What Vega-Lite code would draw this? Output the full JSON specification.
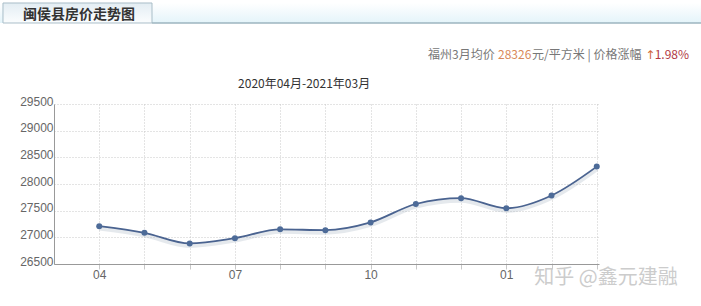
{
  "$schema": "https://vega.github.io/schema/vega-lite/v6.json",
  "autosize": {"type": "none"},
  "width": 545,
  "height": 160,
  "padding": {"left": 54, "top": 104, "right": 102, "bottom": 42},
  "background": "white",
  "config": {
    "view": {"stroke": null},
    "font": "Noto Sans CJK SC",
    "axis": {"labelOverlap": false, "labelFlush": false}
  },
  "layer": [
    {
      "data": {"values": [
        {"i": 0, "month": "2020-04", "price": 27210},
        {"i": 1, "month": "2020-05", "price": 27085},
        {"i": 2, "month": "2020-06", "price": 26885},
        {"i": 3, "month": "2020-07", "price": 26985},
        {"i": 4, "month": "2020-08", "price": 27150},
        {"i": 5, "month": "2020-09", "price": 27135},
        {"i": 6, "month": "2020-10", "price": 27280},
        {"i": 7, "month": "2020-11", "price": 27625},
        {"i": 8, "month": "2020-12", "price": 27735},
        {"i": 9, "month": "2021-01", "price": 27545},
        {"i": 10, "month": "2021-02", "price": 27785},
        {"i": 11, "month": "2021-03", "price": 28326}
      ]},
      "encoding": {
        "x": {
          "field": "i",
          "type": "quantitative",
          "scale": {"domain": [-1, 11.05], "nice": false, "zero": false},
          "axis": {
            "title": null,
            "values": [0, 1, 2, 3, 4, 5, 6, 7, 8, 9, 10, 11],
            "tickCount": 12,
            "labelExpr": "datum.value == 0 ? '04' : datum.value == 3 ? '07' : datum.value == 6 ? '10' : datum.value == 9 ? '01' : ''",
            "labelFont": "Liberation Sans",
            "labelFontSize": 12,
            "labelColor": "#666666",
            "labelPadding": 0,
            "tickSize": 5,
            "tickColor": "#c8c8c8",
            "domainColor": "#999999",
            "grid": true,
            "gridColor": "#c8c8c8",
            "gridDash": [1, 2]
          }
        },
        "y": {
          "field": "price",
          "type": "quantitative",
          "scale": {"domain": [26500, 29500], "nice": false, "zero": false},
          "axis": {
            "title": null,
            "values": [26500, 27000, 27500, 28000, 28500, 29000, 29500],
            "tickCount": 7,
            "format": "d",
            "labelFont": "Liberation Sans",
            "labelFontSize": 12,
            "labelColor": "#666666",
            "labelPadding": 1,
            "labelOffset": -3,
            "ticks": false,
            "domainColor": "#999999",
            "grid": true,
            "gridColor": "#c8c8c8",
            "gridDash": [1, 2]
          }
        }
      },
      "layer": [
        {"mark": {"type": "line", "interpolate": "monotone", "stroke": "#b4bfcc", "strokeWidth": 5, "opacity": 0.35, "yOffset": 2}},
        {"mark": {"type": "line", "interpolate": "monotone", "stroke": "#4a6390", "strokeWidth": 1.8}},
        {"mark": {"type": "point", "filled": true, "size": 36, "color": "#4d6b98", "opacity": 1}}
      ]
    },
    {
      "data": {"values": [{"part": "band"}]},
      "mark": {"type": "rect", "fill": {"gradient": "linear", "x1": 0, "y1": 0, "x2": 0, "y2": 1, "stops": [{"offset": 0, "color": "#ffffff"}, {"offset": 1, "color": "#e4f4fa"}]}},
      "encoding": {
        "x": {"datum": -2.194, "type": "quantitative"},
        "x2": {"datum": 13.305},
        "y": {"datum": 31394, "type": "quantitative"},
        "y2": {"datum": 31019}
      }
    },
    {
      "data": {"values": [{"part": "tab"}]},
      "mark": {"type": "rect", "stroke": "#a9bec8", "strokeWidth": 1, "fill": {"gradient": "linear", "x1": 0, "y1": 0, "x2": 0, "y2": 1, "stops": [{"offset": 0, "color": "#e3edf3"}, {"offset": 1, "color": "#fbfdfe"}]}},
      "encoding": {
        "x": {"datum": -2.128, "type": "quantitative"},
        "x2": {"datum": 1.167},
        "y": {"datum": 31394, "type": "quantitative"},
        "y2": {"datum": 31019}
      }
    },
    {
      "data": {"values": [{"part": "line"}]},
      "mark": {"type": "rule", "stroke": "#9db5bf", "strokeWidth": 1.5},
      "encoding": {
        "x": {"datum": 1.167, "type": "quantitative"},
        "x2": {"datum": 13.305},
        "y": {"datum": 31019, "type": "quantitative"}
      }
    },
    {
      "data": {"values": [{"label": "闽侯县房价走势图"}]},
      "mark": {"type": "text", "align": "left", "baseline": "middle", "fontSize": 14, "fontWeight": "bold", "color": "#333333"},
      "encoding": {
        "x": {"datum": -1.685, "type": "quantitative"},
        "y": {"datum": 31169, "type": "quantitative"},
        "text": {"field": "label"}
      }
    },
    {
      "data": {"values": [{"label": "2020年04月-2021年03月"}]},
      "mark": {"type": "text", "align": "center", "baseline": "middle", "fontSize": 12, "color": "#333333"},
      "encoding": {
        "x": {"datum": 4.53, "type": "quantitative"},
        "y": {"datum": 29875, "type": "quantitative"},
        "text": {"field": "label"}
      }
    },
    {
      "data": {"values": [{"label": "福州3月均价"}]},
      "mark": {"type": "text", "align": "left", "baseline": "middle", "fontSize": 12, "color": "#777777"},
      "encoding": {
        "x": {"datum": 7.269, "type": "quantitative"},
        "y": {"datum": 30419, "type": "quantitative"},
        "text": {"field": "label"}
      }
    },
    {
      "data": {"values": [{"label": "28326"}]},
      "mark": {"type": "text", "align": "left", "baseline": "middle", "fontSize": 12, "color": "#d98a5a"},
      "encoding": {
        "x": {"datum": 8.817, "type": "quantitative"},
        "y": {"datum": 30419, "type": "quantitative"},
        "text": {"field": "label"}
      }
    },
    {
      "data": {"values": [{"label": "元/平方米 | 价格涨幅"}]},
      "mark": {"type": "text", "align": "left", "baseline": "middle", "fontSize": 12, "color": "#777777"},
      "encoding": {
        "x": {"datum": 9.57, "type": "quantitative"},
        "y": {"datum": 30419, "type": "quantitative"},
        "text": {"field": "label"}
      }
    },
    {
      "data": {"values": [{"label": "↑"}]},
      "mark": {"type": "text", "align": "left", "baseline": "middle", "fontSize": 12, "font": "DejaVu Sans", "color": "#d0663a"},
      "encoding": {
        "x": {"datum": 12.07, "type": "quantitative"},
        "y": {"datum": 30419, "type": "quantitative"},
        "text": {"field": "label"}
      }
    },
    {
      "data": {"values": [{"label": "1.98%"}]},
      "mark": {"type": "text", "align": "right", "baseline": "middle", "fontSize": 12, "color": "#b23a45"},
      "encoding": {
        "x": {"datum": 13.04, "type": "quantitative"},
        "y": {"datum": 30419, "type": "quantitative"},
        "text": {"field": "label"}
      }
    },
    {
      "data": {"values": [{"label": "知乎 @鑫元建融"}]},
      "mark": {"type": "text", "align": "left", "baseline": "middle", "fontSize": 20, "color": "#cccccc"},
      "encoding": {
        "x": {"datum": 9.62, "type": "quantitative"},
        "y": {"datum": 26230, "type": "quantitative"},
        "text": {"field": "label"}
      }
    }
  ]
}
